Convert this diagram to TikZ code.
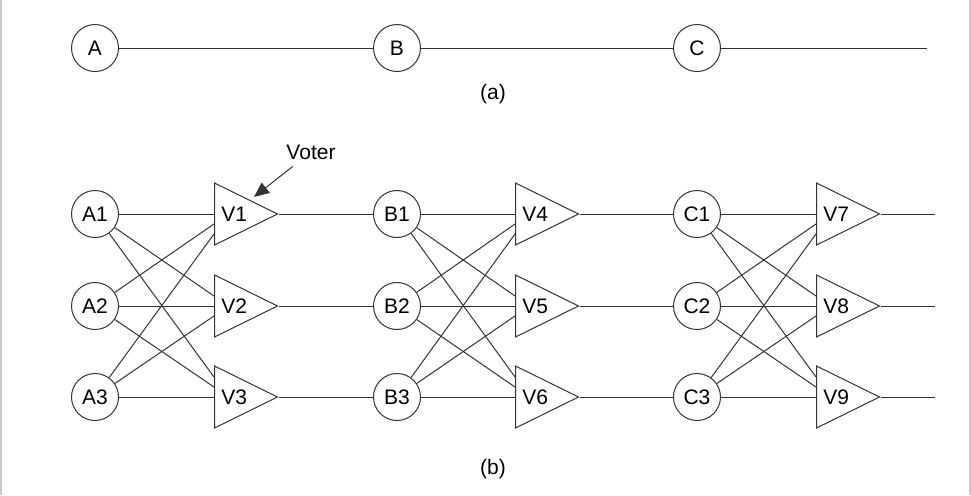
\documentclass[tikz,border=0pt]{standalone}
\usepackage{fontspec}
\setmainfont{Liberation Sans}
\usetikzlibrary{shapes.geometric,arrows.meta}

\definecolor{framegray}{RGB}{200,204,208}
\tikzset{
  unit/.style={circle, draw=black!80, line width=0.5pt, minimum size=23.5pt, inner sep=0pt},
  voter/.style={isosceles triangle, isosceles triangle stretches, draw=black!80, line width=0.5pt,
    minimum width=31pt, minimum height=31.5pt, inner sep=0pt, anchor=lower side},
  wire/.style={draw=black!80, line width=0.5pt},
  pointer/.style={draw=black!80, line width=0.5pt, -{Triangle[length=7.5pt,width=6.5pt]}}
}

\begin{document}
\begin{tikzpicture}[x=0.5pt, y=0.5pt, font=\fontsize{10.5}{12.6}\selectfont]
  \useasboundingbox (0,0) rectangle (971,495);
  % light frame on both sides
  \draw[framegray, line width=1pt] (1,0) -- (1,495);
  \draw[framegray, line width=1pt] (969.5,0) -- (969.5,495);

  % (a) simplex chain
  \node[unit] (A) at (95,447) {A};
  \node[unit] (B) at (397,447) {B};
  \node[unit] (C) at (697,447) {C};
  \coordinate (aend) at (927,447);
  \draw[wire] (A) -- (B) -- (C) -- (aend);
  \node (lbla) at (493,401) {(a)};

  % (b) triplicated modules with voters
  \foreach \L/\cx/\tx/\k in {A/95/214/0, B/397/515/3, C/697/816/6}{
    \foreach \i/\y in {1/281, 2/189, 3/98}{
      \pgfmathtruncatemacro\v{\k+\i}
      \node[unit] (\L\i) at (\cx,\y) {\L\i};
      \node[voter] (V\v) at (\tx,\y) {V\v};
    }
  }
  \foreach \L/\k in {A/0, B/3, C/6}{
    \foreach \i in {1,2,3}{
      \foreach \j in {1,2,3}{
        \pgfmathtruncatemacro\v{\k+\j}
        \pgfmathsetmacro\d{(\j-\i)*5}
        \draw[wire] (\L\i) -- ([yshift=\d pt]V\v.lower side);
      }
    }
  }
  % voter outputs
  \coordinate (out1) at (935,281);
  \coordinate (out2) at (935,189);
  \coordinate (out3) at (935,98);
  \draw[wire] (V1.apex) -- (B1);
  \draw[wire] (V2.apex) -- (B2);
  \draw[wire] (V3.apex) -- (B3);
  \draw[wire] (V4.apex) -- (C1);
  \draw[wire] (V5.apex) -- (C2);
  \draw[wire] (V6.apex) -- (C3);
  \draw[wire] (V7.apex) -- (out1);
  \draw[wire] (V8.apex) -- (out2);
  \draw[wire] (V9.apex) -- (out3);

  % voter callout
  \node (voterlbl) at (311,343) {Voter};
  \coordinate (vtip) at (254,298);
  \draw[pointer] (voterlbl) -- (vtip);

  \node (lblb) at (493,26) {(b)};
\end{tikzpicture}
\end{document}
